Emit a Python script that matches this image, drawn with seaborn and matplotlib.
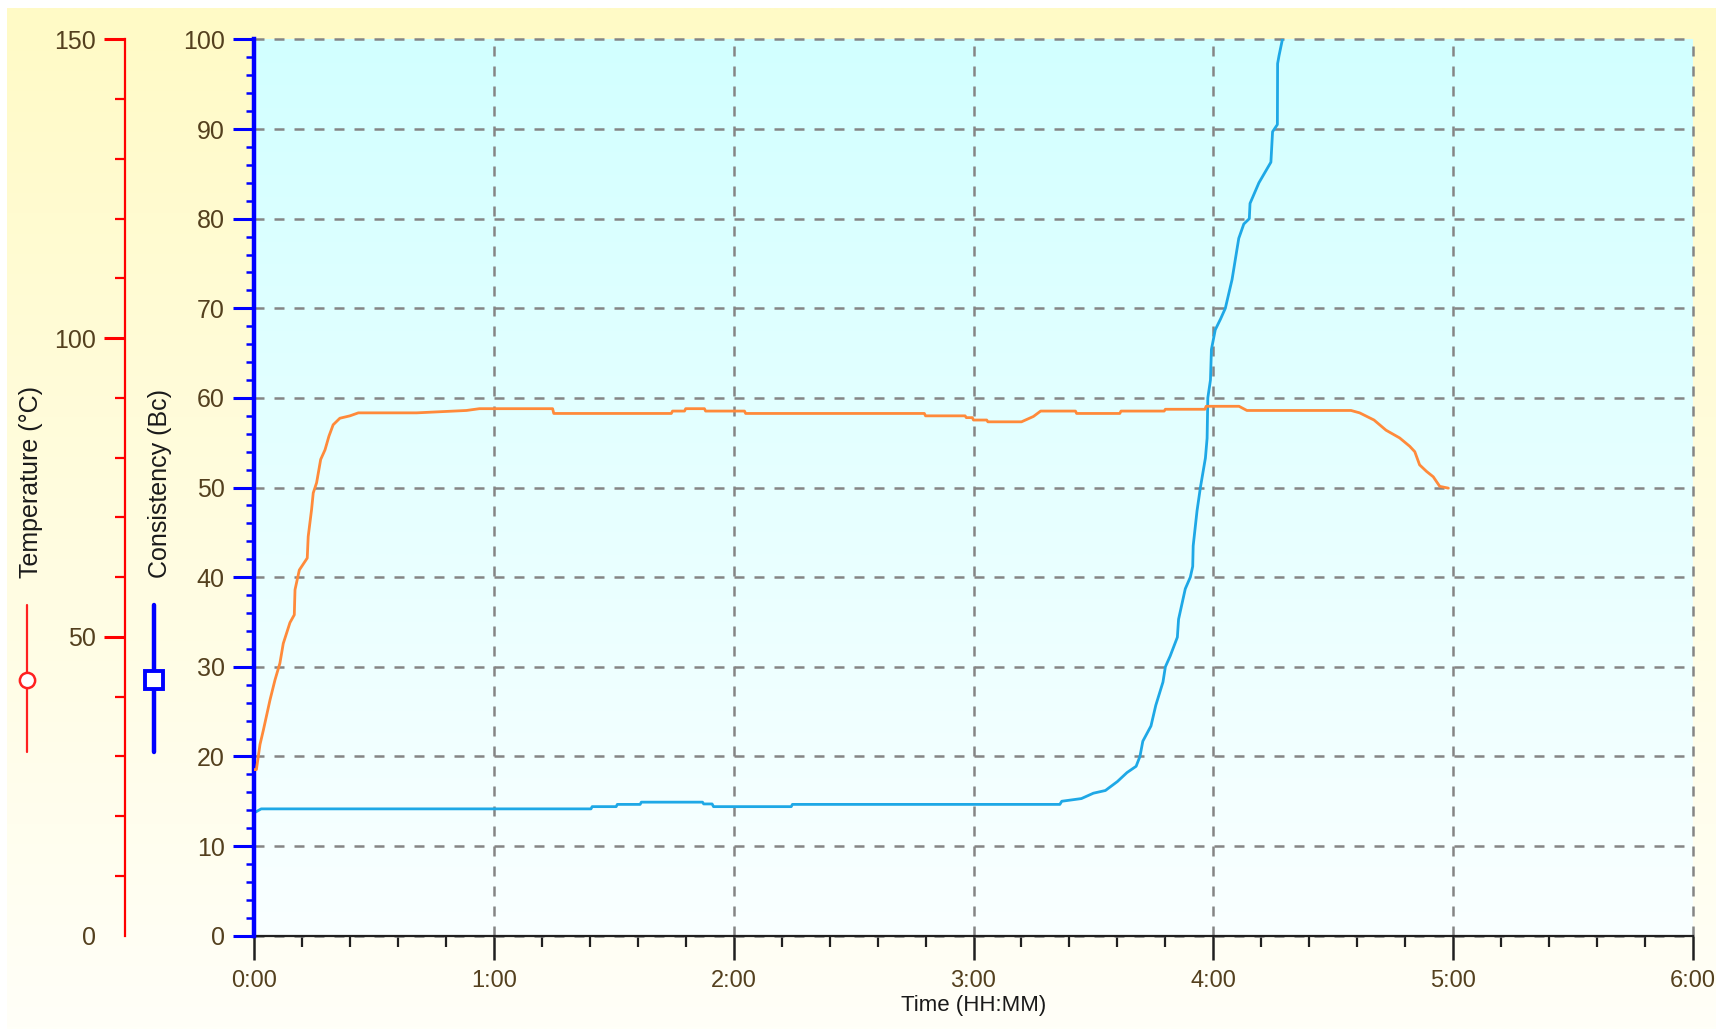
import numpy as np
import pandas as pd
import matplotlib
matplotlib.use("Agg")
import matplotlib.pyplot as plt
from matplotlib.ticker import MultipleLocator, FuncFormatter, FixedLocator
from matplotlib.lines import Line2D
import seaborn as sns

# ---------------- data ----------------
# Temperature (deg C) vs time (hours)
temp_time = [0.0, 0.01, 0.025, 0.039, 0.067, 0.0875, 0.108, 0.122, 0.15, 0.168, 0.171,
             0.189, 0.222, 0.226, 0.24, 0.247, 0.261, 0.278, 0.296, 0.3125, 0.33, 0.358,
             0.4, 0.435, 0.678, 0.886, 0.94, 1.245, 1.25, 1.74, 1.745, 1.795, 1.80,
             1.878, 1.883, 2.045, 2.05, 2.795, 2.80, 2.965, 2.97, 2.995, 3.0, 3.055,
             3.06, 3.20, 3.25, 3.28, 3.425, 3.43, 3.61, 3.615, 3.795, 3.80, 3.965,
             3.97, 4.107, 4.14, 4.574, 4.61, 4.67, 4.72, 4.777, 4.819, 4.84, 4.86,
             4.889, 4.917, 4.944, 4.98]
temp_degc = [27.8, 27.8, 32.0, 34.4, 39.5, 42.8, 45.6, 48.9, 52.4, 53.7, 57.9,
             61.2, 63.2, 66.8, 71.3, 74.1, 75.8, 79.7, 81.3, 83.6, 85.5, 86.6,
             87.0, 87.5, 87.5, 87.9, 88.2, 88.2, 87.4, 87.4, 87.8, 87.8, 88.2,
             88.2, 87.8, 87.8, 87.4, 87.4, 87.0, 87.0, 86.7, 86.7, 86.3, 86.3,
             86.0, 86.0, 86.9, 87.8, 87.8, 87.4, 87.4, 87.8, 87.8, 88.1, 88.1,
             88.6, 88.6, 87.9, 87.9, 87.5, 86.3, 84.6, 83.3, 81.9, 81.0, 78.8,
             77.7, 76.8, 75.2, 74.9]

# Consistency (Bc) vs time (hours)
cons_time = [0.0, 0.03, 1.405, 1.41, 1.51, 1.515, 1.61, 1.615, 1.87, 1.875, 1.91, 1.916,
             2.24, 2.245, 3.36, 3.368, 3.45, 3.50, 3.55, 3.60, 3.64, 3.678, 3.694,
             3.706, 3.74, 3.76, 3.79, 3.80, 3.82, 3.85, 3.855, 3.883, 3.904, 3.914,
             3.916, 3.932, 3.946, 3.967, 3.974, 3.977, 3.988, 3.992, 4.008, 4.03,
             4.05, 4.078, 4.106, 4.127, 4.15, 4.153, 4.19, 4.24, 4.247, 4.267,
             4.268, 4.274, 4.288]
cons_bc = [13.7, 14.15, 14.15, 14.4, 14.4, 14.65, 14.65, 14.9, 14.9, 14.7, 14.7, 14.4,
           14.4, 14.65, 14.65, 15.0, 15.3, 15.9, 16.2, 17.2, 18.2, 18.9, 20.0,
           21.7, 23.4, 25.7, 28.3, 30.0, 31.2, 33.3, 35.3, 38.7, 40.0, 41.2,
           43.5, 47.4, 50.0, 53.3, 55.5, 60.0, 62.0, 65.4, 67.6, 68.8,
           70.0, 73.2, 77.8, 79.4, 80.0, 81.7, 84.0, 86.3, 89.7, 90.5,
           97.3, 98.2, 100.0]

x_ticks = [0, 1, 2, 3, 4, 5, 6]
cons_ticks = [0, 10, 20, 30, 40, 50, 60, 70, 80, 90, 100]
temp_ticks = [0, 50, 100, 150]

temp_df = pd.DataFrame({"time": temp_time, "temp": temp_degc})
cons_df = pd.DataFrame({"time": cons_time, "bc": cons_bc})

# ---------------- style ----------------
sns.set_style("ticks")
plt.rcParams["font.family"] = ["Liberation Sans", "DejaVu Sans"]

W, H = 1716, 1029
fig = plt.figure(figsize=(W / 100, H / 100), dpi=100)
fig.patch.set_facecolor("white")

# figure background gradient (yellow -> near white)
bg = fig.add_axes([0, 0, 1, 1], zorder=-10)
bg.set_xlim(0, W)
bg.set_ylim(H, 0)
bg.axis("off")
top_c = np.array([255, 250, 198]) / 255.0
bot_c = np.array([255, 255, 248]) / 255.0
g = np.linspace(0, 1, 256)[:, None, None]
grad = top_c * (1 - g) + bot_c * g
grad = np.repeat(grad, 2, axis=1)
bg.imshow(grad, extent=[7, W, H, 8], aspect="auto", interpolation="bilinear")

# legend-like items on the left
tick_col = "#54401e"
bg.text(31, 482, "Temperature (°C)", rotation=90, ha="center", va="center",
        fontsize=18, color="#1a1a1a")
bg.text(160, 483, "Consistency (Bc)", rotation=90, ha="center", va="center",
        fontsize=18, color="#1a1a1a")
bg.add_line(Line2D([27, 27], [605, 752], color="#ff2020", lw=1.6))
bg.plot([27], [680], marker="o", ms=11, mfc="white", mec="#ff2020", mew=1.8, ls="none")
bg.add_line(Line2D([154, 154], [605, 752], color="#0000ff", lw=3.2))
bg.plot([154], [680], marker="s", ms=13, mfc="white", mec="#0000ff", mew=2.8, ls="none")

# main axes (consistency)
left, right = 254 / W, 1693 / W
bottom, top = 1 - 935.7 / H, 1 - 39.4 / H
ax = fig.add_axes([left, bottom, right - left, top - bottom])
ax.set_facecolor("none")

pa_top = np.array([210, 255, 255]) / 255.0
pa_bot = np.array([250, 255, 255]) / 255.0
grad2 = pa_top * (1 - g) + pa_bot * g
grad2 = np.repeat(grad2, 2, axis=1)
ax.imshow(grad2, extent=[0, 6, 0, 100], aspect="auto", interpolation="bilinear", zorder=0)

sns.lineplot(data=cons_df, x="time", y="bc", ax=ax, color="#1ea8e6", lw=2.0,
             estimator=None, sort=False, zorder=3)

ax.set_xlim(0, 6)
ax.set_ylim(0, 100)
ax.xaxis.set_major_locator(FixedLocator(x_ticks))
ax.xaxis.set_minor_locator(MultipleLocator(0.2))
ax.xaxis.set_major_formatter(FuncFormatter(lambda v, p: f"{int(v)}:{int(round((v % 1) * 60)):02d}"))
ax.yaxis.set_major_locator(FixedLocator(cons_ticks))
ax.yaxis.set_minor_locator(MultipleLocator(2))

ax.grid(True, which="major", color="#858585", linestyle=(0, (4, 4)), lw=1.8, zorder=1)
for gl in ax.get_xgridlines() + ax.get_ygridlines():
    gl.set_clip_on(False)

for s in ["top", "right"]:
    ax.spines[s].set_visible(False)
ax.spines["left"].set_color("#0000ff")
ax.spines["left"].set_linewidth(3.2)
ax.spines["bottom"].set_color("#202020")
ax.spines["bottom"].set_linewidth(1.6)
ax.spines["left"].set_zorder(5)

ax.tick_params(axis="y", which="major", length=15, width=2.2, color="#0000ff",
               labelsize=18, labelcolor=tick_col, pad=6, direction="out")
ax.tick_params(axis="y", which="minor", length=6, width=1.8, color="#0000ff", direction="out")
ax.tick_params(axis="x", which="major", length=17, width=1.8, color="#202020",
               labelsize=17, labelcolor=tick_col, pad=8, direction="out")
ax.tick_params(axis="x", which="minor", length=8, width=1.6, color="#202020", direction="out")

ax.set_xlabel("Time (HH:MM)", fontsize=16, color="#1a1a1a", labelpad=2)
ax.set_ylabel("")
ax.yaxis.get_major_ticks()[0].tick1line.set_visible(False)

# temperature axis
ax2 = ax.twinx()
sns.lineplot(data=temp_df, x="time", y="temp", ax=ax2, color="#ff8a3a", lw=2.0,
             estimator=None, sort=False, zorder=3)
ax2.set_ylim(0, 150)
ax2.set_xlim(0, 6)
for s in ["top", "right", "bottom"]:
    ax2.spines[s].set_visible(False)
ax2.spines["left"].set_visible(True)
ax2.spines["left"].set_position(("axes", -129 / 1439))
ax2.spines["left"].set_color("#ff0000")
ax2.spines["left"].set_linewidth(1.6)
ax2.yaxis.set_ticks_position("left")
ax2.yaxis.set_label_position("left")
ax2.yaxis.set_major_locator(FixedLocator(temp_ticks))
ax2.yaxis.set_minor_locator(MultipleLocator(10))
ax2.tick_params(axis="y", which="major", length=15, width=2.2, color="#ff0000",
                labelsize=18, labelcolor=tick_col, pad=6, direction="out")
ax2.tick_params(axis="y", which="minor", length=7, width=1.6, color="#ff0000", direction="out")
ax2.set_ylabel("")
ax2.set_xlabel("")
ax2.grid(False)
ax2.yaxis.get_major_ticks()[0].tick1line.set_visible(False)

fig.savefig("out.png", dpi=100)
